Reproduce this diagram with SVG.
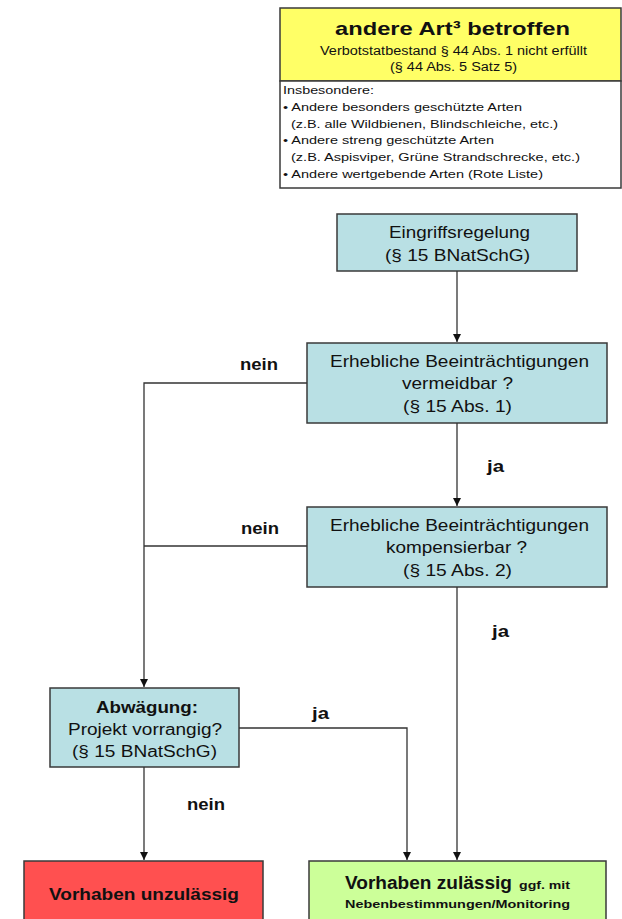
<svg xmlns="http://www.w3.org/2000/svg" width="622" height="919" viewBox="0 0 622 919">
<defs>
<style>
text{font-family:"Liberation Sans",Arial,sans-serif;fill:#111}
.b{font-weight:bold}
.box{stroke:#3a3a3a;stroke-width:1.5}
.blue{fill:#b9e0e4}
.con{fill:none;stroke:#333;stroke-width:1.3}
</style>
<marker id="ah" viewBox="0 0 10 10" refX="10" refY="5" markerWidth="8" markerHeight="8" markerUnits="userSpaceOnUse" orient="auto">
<path d="M0,0 L10,5 L0,10 z" fill="#111"/>
</marker>
</defs>
<rect width="622" height="919" fill="#fff"/>

<g id="art-box">
<rect class="box" x="280" y="8" width="341" height="73" fill="#ffff66"/>
<rect class="box" x="280" y="81" width="341" height="107" fill="#fff"/>
<text class="b" x="335" y="35" font-size="19" textLength="235" lengthAdjust="spacingAndGlyphs">andere Art³ betroffen</text>
<text x="320" y="55" font-size="12" textLength="267" lengthAdjust="spacingAndGlyphs">Verbotstatbestand § 44 Abs. 1 nicht erfüllt</text>
<text x="390" y="71" font-size="12" textLength="127" lengthAdjust="spacingAndGlyphs">(§ 44 Abs. 5 Satz 5)</text>
<g font-size="11">
<text x="283" y="94" textLength="91" lengthAdjust="spacingAndGlyphs">Insbesondere:</text>
<text x="283" y="111" textLength="239" lengthAdjust="spacingAndGlyphs">• Andere besonders geschützte Arten</text>
<text x="291" y="128" textLength="267" lengthAdjust="spacingAndGlyphs">(z.B. alle Wildbienen, Blindschleiche, etc.)</text>
<text x="283" y="144" textLength="211" lengthAdjust="spacingAndGlyphs">• Andere streng geschützte Arten</text>
<text x="291" y="161" textLength="289" lengthAdjust="spacingAndGlyphs">(z.B. Aspisviper, Grüne Strandschrecke, etc.)</text>
<text x="283" y="178" textLength="260" lengthAdjust="spacingAndGlyphs">• Andere wertgebende Arten (Rote Liste)</text>
</g>
</g>

<g id="eingriffsregelung">
<rect class="box blue" x="337" y="214" width="240" height="57"/>
<text x="389" y="238" font-size="16.5" textLength="141" lengthAdjust="spacingAndGlyphs">Eingriffsregelung</text>
<text x="385" y="261" font-size="16.5" textLength="145" lengthAdjust="spacingAndGlyphs">(§ 15 BNatSchG)</text>
</g>

<g id="vermeidbar">
<rect class="box blue" x="307" y="343" width="300" height="80"/>
<text x="330" y="367" font-size="16.5" textLength="259" lengthAdjust="spacingAndGlyphs">Erhebliche Beeinträchtigungen</text>
<text x="402" y="389" font-size="16.5" textLength="111" lengthAdjust="spacingAndGlyphs">vermeidbar ?</text>
<text x="403" y="412" font-size="16.5" textLength="109" lengthAdjust="spacingAndGlyphs">(§ 15 Abs. 1)</text>
</g>

<g id="kompensierbar">
<rect class="box blue" x="307" y="507" width="300" height="80"/>
<text x="330" y="531" font-size="16.5" textLength="259" lengthAdjust="spacingAndGlyphs">Erhebliche Beeinträchtigungen</text>
<text x="386" y="553" font-size="16.5" textLength="141" lengthAdjust="spacingAndGlyphs">kompensierbar ?</text>
<text x="403" y="576" font-size="16.5" textLength="109" lengthAdjust="spacingAndGlyphs">(§ 15 Abs. 2)</text>
</g>

<g id="abwaegung">
<rect class="box blue" x="50" y="688" width="189" height="79"/>
<text class="b" x="96" y="713" font-size="16" textLength="102" lengthAdjust="spacingAndGlyphs">Abwägung:</text>
<text x="68" y="735" font-size="16" textLength="154" lengthAdjust="spacingAndGlyphs">Projekt vorrangig?</text>
<text x="72" y="757" font-size="16" textLength="145" lengthAdjust="spacingAndGlyphs">(§ 15 BNatSchG)</text>
</g>

<g id="unzulaessig">
<rect class="box" x="24" y="861" width="239" height="62" fill="#ff5050"/>
<text class="b" x="49" y="900" font-size="17" textLength="190" lengthAdjust="spacingAndGlyphs">Vorhaben unzulässig</text>
</g>

<g id="zulaessig">
<rect class="box" x="309" y="861" width="297" height="62" fill="#ccff99"/>
<text class="b" x="345" y="889" font-size="18" textLength="167" lengthAdjust="spacingAndGlyphs">Vorhaben zulässig</text>
<text class="b" x="519" y="889" font-size="11" textLength="51" lengthAdjust="spacingAndGlyphs">ggf. mit</text>
<text class="b" x="345" y="908" font-size="11.5" textLength="225" lengthAdjust="spacingAndGlyphs">Nebenbestimmungen/Monitoring</text>
</g>

<g id="connectors">
<path class="con" d="M457,271 V342" marker-end="url(#ah)"/>
<path class="con" d="M457,423 V506" marker-end="url(#ah)"/>
<path class="con" d="M307,383 H144 V687" marker-end="url(#ah)"/>
<path class="con" d="M307,546 H144"/>
<path class="con" d="M457,587 V860" marker-end="url(#ah)"/>
<path class="con" d="M239,728 H407 V860" marker-end="url(#ah)"/>
<path class="con" d="M144,767 V860" marker-end="url(#ah)"/>
</g>

<g id="labels" font-size="16">
<text class="b" x="240" y="370" textLength="38" lengthAdjust="spacingAndGlyphs">nein</text>
<text class="b" x="241" y="534" textLength="38" lengthAdjust="spacingAndGlyphs">nein</text>
<text class="b" x="487" y="472" textLength="17" lengthAdjust="spacingAndGlyphs">ja</text>
<text class="b" x="492" y="637" textLength="17" lengthAdjust="spacingAndGlyphs">ja</text>
<text class="b" x="312" y="719" textLength="17" lengthAdjust="spacingAndGlyphs">ja</text>
<text class="b" x="187" y="810" textLength="38" lengthAdjust="spacingAndGlyphs">nein</text>
</g>
</svg>
